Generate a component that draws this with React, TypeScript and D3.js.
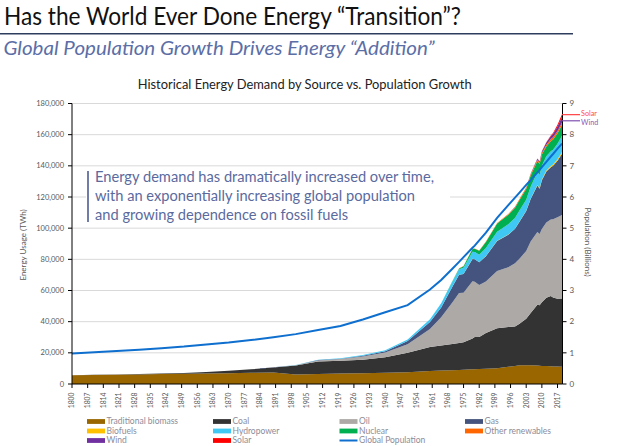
import React from "react";
import * as d3 from "d3";

const years = [1800,1810,1820,1830,1840,1850,1860,1870,1880,1890,1900,1910,1920,1930,1940,1950,1960,1965,1970,1973,1975,1979,1980,1982,1985,1990,1995,1998,2000,2003,2005,2008,2009,2010,2012,2014,2015,2017,2019];

const tradBiomass = [5556,5833,5972,6111,6389,6528,6667,6944,7222,7361,6111,6389,6667,6944,7222,7500,8333,8611,8889,9056,9167,9389,9444,9556,9722,10100,11000,11600,12000,12100,12000,11800,11700,11600,11500,11400,11300,11200,11100];
const coal = [97,128,153,264,356,569,1061,1498,2164,3218,5728,8105,8236,8600,9939,12603,15442,16140,16770,17300,17700,19800,20700,20600,23000,25600,25500,25300,26600,29800,33600,39000,38800,40800,43800,45000,44200,43500,43800];
const oil = [0,0,0,0,0,0,0,6,33,77,181,569,1117,2089,3056,5444,11500,18109,26720,32000,31700,36800,35400,33300,33000,36800,38500,40600,41800,43400,45800,46700,45800,47100,48300,49200,50300,52300,53600];
const gas = [0,0,0,0,0,0,0,0,10,30,64,278,233,539,872,2092,4500,6303,10000,11700,12000,14300,14500,14700,16300,19300,20800,22100,23700,25700,27300,29800,29000,31200,32700,33500,34200,36300,39300];
const biofuels = [0,0,0,0,0,0,0,0,0,0,0,0,0,0,0,0,0,0,0,0,0,20,30,40,60,75,90,100,110,170,220,480,530,600,630,730,780,870,1100];
const hydropower = [0,0,0,0,0,0,0,0,0,0,50,150,300,450,600,900,1800,2600,3300,3600,4000,4500,4600,4800,5200,5800,6600,6900,7100,7100,7700,8300,8300,8800,9200,9600,9600,10000,10400];
const nuclear = [0,0,0,0,0,0,0,0,0,0,0,0,0,0,0,0,0,70,220,540,1000,1900,2050,2500,3900,5300,6100,6500,6800,6900,7200,7100,7000,7100,6200,6400,6500,6700,6900];
const otherRenewables = [0,0,0,0,0,0,0,0,0,0,0,0,0,0,0,0,40,60,90,110,120,140,150,170,250,380,450,530,600,700,800,950,1000,1100,1250,1400,1450,1520,1600];
const wind = [0,0,0,0,0,0,0,0,0,0,0,0,0,0,0,0,0,0,0,0,0,0,0,0,0,10,20,40,80,160,270,570,720,900,1360,1800,2100,2800,3500];
const solar = [0,0,0,0,0,0,0,0,0,0,0,0,0,0,0,0,0,0,0,0,0,0,0,0,0,1,2,2,3,6,10,32,52,89,260,490,650,1150,1800];
const population = [0.98,1.02,1.06,1.1,1.15,1.2,1.27,1.33,1.41,1.5,1.6,1.73,1.86,2.07,2.3,2.53,3.03,3.34,3.7,3.92,4.07,4.37,4.44,4.61,4.86,5.33,5.74,5.98,6.14,6.39,6.54,6.79,6.87,6.96,7.13,7.3,7.38,7.55,7.71];

const seriesNames = ["Traditional biomass","Coal","Oil","Gas","Biofuels","Hydropower","Nuclear","Other renewables","Wind","Solar"];
const seriesValues = [tradBiomass,coal,oil,gas,biofuels,hydropower,nuclear,otherRenewables,wind,solar];
const seriesColors = ["#996600","#333333","#ADA9A7","#44547E","#FFC000","#40C8F4","#00B050","#FF6600","#7030A0","#FF0000"];

const leftTicks = [0,20000,40000,60000,80000,100000,120000,140000,160000,180000];
const rightTicks = [0,1,2,3,4,5,6,7,8,9];
const xTickYears = d3.range(1800, 2018, 7);

const legendOrder = [
  ["Traditional biomass","Coal","Oil","Gas"],
  ["Biofuels","Hydropower","Nuclear","Other renewables"],
  ["Wind","Solar","Global Population"],
];

const annotationLines = [
  "Energy demand has dramatically increased over time,",
  "with an exponentially increasing global population",
  "and growing dependence on fossil fuels",
];

export default function App() {
  const x = d3.scaleLinear().domain([1800, 2019]).range([72, 562]);
  const y = d3.scaleLinear().domain([0, 180000]).range([384, 103.5]);
  const yR = d3.scaleLinear().domain([0, 9]).range([384, 103.5]);

  const rows = years.map((yr, i) => {
    const r: any = { year: yr };
    seriesNames.forEach((n, k) => (r[n] = seriesValues[k][i]));
    return r;
  });
  const stacked = d3.stack().keys(seriesNames)(rows);
  const area = d3
    .area<any>()
    .x((d) => x(d.data.year))
    .y0((d) => y(d[0]))
    .y1((d) => y(d[1]));
  const popLine = d3
    .line<number>()
    .x((_, i) => x(years[i]))
    .y((d) => yR(d));

  const fmt = d3.format(",");
  const font = "Lato, 'Liberation Sans', sans-serif";
  const gray = "#595959";

  const last = years.length - 1;
  const solarLayer = stacked[9][last];
  const windLayer = stacked[8][last];
  const solarY = y((solarLayer[0] + solarLayer[1]) / 2) - 1;
  const windY = y((windLayer[0] + windLayer[1]) / 2) + 1;

  const colX = [87, 213, 339.5, 465];
  const rowY = [421.5, 431, 440.5];

  return (
    <svg width={628} height={446} style={{ position: "absolute", left: 0, top: 0, background: "#fff" }} fontFamily={font}>
      {/* Header */}
      <text x={4} y={25} fontSize={25} fill="#111" textLength={457} lengthAdjust="spacingAndGlyphs">
        Has the World Ever Done Energy “Transition”?
      </text>
      <line x1={0} x2={573} y1={33.7} y2={33.7} stroke="#2E3D5E" strokeWidth={1.5} />
      <text x={3.5} y={55} fontSize={19} fontStyle="italic" fill="#5B6EA6" textLength={431} lengthAdjust="spacingAndGlyphs">
        Global Population Growth Drives Energy “Addition”
      </text>
      <text x={304.7} y={89} fontSize={13} fill="#222" textAnchor="middle" textLength={334} lengthAdjust="spacingAndGlyphs">
        Historical Energy Demand by Source vs. Population Growth
      </text>

      {/* gridlines */}
      {leftTicks.slice(1).map((t) => (
        <line key={t} x1={72} x2={562} y1={y(t)} y2={y(t)} stroke="#D9D9D9" strokeWidth={1} />
      ))}

      {/* annotation box background */}
      <rect x={86} y={168} width={364} height={58} fill="#fff" />
      <line x1={88} x2={88} y1={171} y2={222} stroke="#6F7DA8" strokeWidth={2} />
      {annotationLines.map((l, i) => (
        <text key={i} x={95} y={182 + i * 18.8} fontSize={14.5} fill="#5A6A9E"
          textLength={[339, 320, 253][i]} lengthAdjust="spacingAndGlyphs">
          {l}
        </text>
      ))}

      {/* stacked areas */}
      {stacked.map((s, k) => (
        <path key={seriesNames[k]} d={area(s) || ""} fill={seriesColors[k]} />
      ))}

      {/* population line */}
      <path d={popLine(population) || ""} fill="none" stroke="#0E6FCF" strokeWidth={2} />

      {/* axes */}
      <line x1={72} x2={72} y1={103.5} y2={384} stroke="#000" strokeWidth={1} />
      <line x1={562.5} x2={562.5} y1={103.5} y2={384} stroke="#000" strokeWidth={1} />
      <line x1={72} x2={562.5} y1={384} y2={384} stroke="#000" strokeWidth={1} />
      {leftTicks.map((t) => (
        <g key={t}>
          <line x1={68} x2={72} y1={y(t)} y2={y(t)} stroke="#000" />
          <text x={64} y={y(t)} dy="0.35em" fontSize={7.5} fill={gray} textAnchor="end">
            {fmt(t)}
          </text>
        </g>
      ))}
      {rightTicks.map((t) => (
        <g key={t}>
          <line x1={562.5} x2={566.5} y1={yR(t)} y2={yR(t)} stroke="#000" />
          <text x={569.5} y={yR(t)} dy="0.35em" fontSize={8} fill={gray}>
            {t}
          </text>
        </g>
      ))}
      {xTickYears.map((yr) => (
        <g key={yr}>
          <line x1={x(yr)} x2={x(yr)} y1={384} y2={388} stroke="#000" />
          <text transform={`translate(${x(yr)},392.5) rotate(-90)`} dy="0.35em" fontSize={6.8} fill={gray} textAnchor="end">
            {yr}
          </text>
        </g>
      ))}

      {/* axis titles */}
      <text transform="translate(23,245) rotate(-90)" dy="0.35em" fontSize={8} fill={gray} textAnchor="middle">
        Energy Usage (TWh)
      </text>
      <text transform="translate(588,242) rotate(90)" dy="0.35em" fontSize={8} fill={gray} textAnchor="middle">
        Population (Billions)
      </text>

      {/* solar / wind labels */}
      <line x1={562} x2={580} y1={solarY} y2={solarY} stroke="#FF4040" strokeWidth={1.2} />
      <line x1={562} x2={580} y1={windY} y2={windY} stroke="#8050B0" strokeWidth={1.2} />
      <text x={581} y={solarY - 0.8} dy="0.35em" fontSize={7.2} fill="#FF4D4D">Solar</text>
      <text x={581} y={windY + 1.8} dy="0.35em" fontSize={7.2} fill="#8A5CB8">Wind</text>

      {/* legend */}
      {legendOrder.map((row, ri) =>
        row.map((name, ci) => {
          const cx = colX[ci];
          const cy = rowY[ri];
          const idx = seriesNames.indexOf(name);
          return (
            <g key={name}>
              {idx >= 0 ? (
                <rect x={cx} y={cy - 2.4} width={18} height={4.8} fill={seriesColors[idx]} />
              ) : (
                <line x1={cx} x2={cx + 18} y1={cy} y2={cy} stroke="#0E6FCF" strokeWidth={2} />
              )}
              <text x={cx + 19.5} y={cy} dy="0.35em" fontSize={8.5} fill="#8C8C9A">
                {name}
              </text>
            </g>
          );
        })
      )}
    </svg>
  );
}
